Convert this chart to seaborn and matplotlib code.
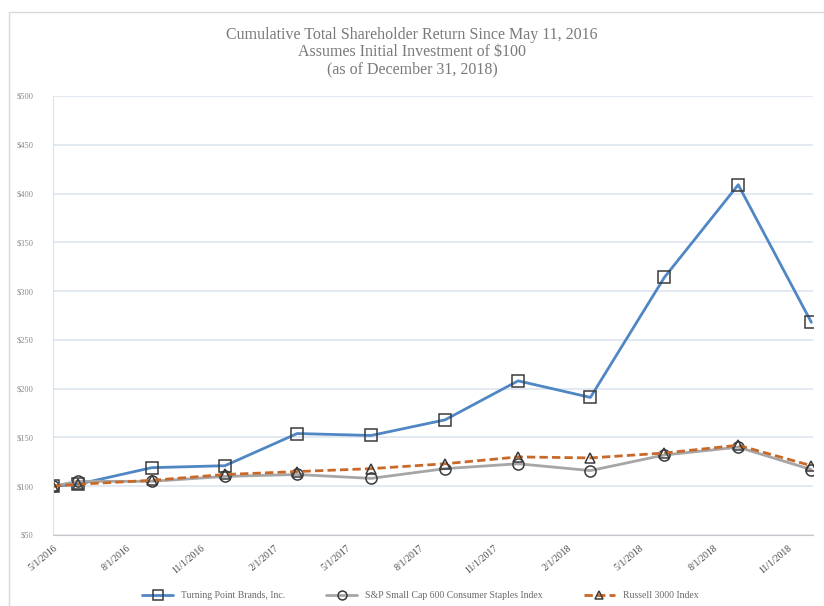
import numpy as np
import pandas as pd
import matplotlib
matplotlib.use("Agg")
import matplotlib.pyplot as plt
import matplotlib.dates as mdates
from matplotlib.ticker import FuncFormatter
from matplotlib.patches import Rectangle
import seaborn as sns

# Quarter-end measurement dates
dates = ["2016-05-11", "2016-06-30", "2016-09-30", "2016-12-31",
         "2017-03-31", "2017-06-30", "2017-09-30", "2017-12-31",
         "2018-03-31", "2018-06-30", "2018-09-30", "2018-12-31"]

tpb = [100, 102, 119, 121, 154, 152, 168, 208, 191, 314, 409, 268]
sp600 = [100, 105, 105, 110, 112, 108, 118, 123, 116, 132, 140, 117]
russell = [100, 102, 106, 112, 115, 118, 123, 130, 129, 134, 142, 121]

series_names = ["Turning Point Brands, Inc.",
                "S&P Small Cap 600 Consumer Staples Index",
                "Russell 3000 Index"]

# Excel-style date axis with month base unit: each point sits at its month start
month_pos = pd.to_datetime(dates).to_period("M").to_timestamp()
df = pd.DataFrame({"date": month_pos, "tpb": tpb, "sp600": sp600, "russell": russell})

sns.set_style("white")
plt.rcParams["font.family"] = ["Liberation Serif", "DejaVu Serif"]

fig = plt.figure(figsize=(8.24, 6.06), dpi=100)
ax = fig.add_axes([0.0643, 0.1172, 0.9223, 0.7244])

edge = "#3a3a3a"
sns.lineplot(data=df, x="date", y="tpb", ax=ax, color="#4f87c4", linewidth=2,
             marker="s", markersize=9, markerfacecolor="none",
             markeredgecolor=edge, markeredgewidth=1.1, label=series_names[0])
sns.lineplot(data=df, x="date", y="sp600", ax=ax, color="#a6a6a6", linewidth=2,
             marker="o", markersize=8, markerfacecolor="none",
             markeredgecolor=edge, markeredgewidth=1.1, label=series_names[1])
sns.lineplot(data=df, x="date", y="russell", ax=ax, color="#c8692a", linewidth=2,
             linestyle=(0, (3, 1.5)), marker="^", markersize=7,
             markerfacecolor="none", markeredgecolor=edge,
             markeredgewidth=1.1, label=series_names[2])

ax.set_ylim(50, 500)
ax.set_yticks(np.arange(50, 501, 50))
ax.yaxis.set_major_formatter(FuncFormatter(lambda v, p: f"${v:.0f}"))
ax.set_xlim(pd.Timestamp("2016-05-01"), pd.Timestamp("2018-12-03"))
ax.xaxis.set_major_locator(mdates.MonthLocator(bymonth=[2, 5, 8, 11]))
ax.xaxis.set_minor_locator(mdates.MonthLocator())
ax.xaxis.set_major_formatter(FuncFormatter(
    lambda v, p: f"{mdates.num2date(v).month}/1/{mdates.num2date(v).year}"))

ax.grid(axis="y", color="#dde5f0", linewidth=1.2)
ax.set_axisbelow(True)
for s in ["top", "right"]:
    ax.spines[s].set_visible(False)
ax.spines["left"].set_color("#e2e2e2")
ax.spines["bottom"].set_color("#c8c8c8")
ax.tick_params(axis="y", labelsize=6, colors="#8a8a8a", length=0, pad=14)
ax.tick_params(axis="x", which="both", direction="inout", length=5,
               color="#c8c8c8", labelsize=7, labelcolor="#4a4a4a")
plt.setp(ax.get_xticklabels(), rotation=40, ha="right", rotation_mode="anchor")
ax.set_xlabel("")
ax.set_ylabel("")

fig.text(0.5, 0.955, "Cumulative Total Shareholder Return Since May 11, 2016\n"
         "Assumes Initial Investment of $100\n(as of December 31, 2018)",
         ha="center", va="top", fontsize=11.5, color="#7a7a7a", linespacing=1.1)

handles, labels = ax.get_legend_handles_labels()
ax.get_legend().remove()
leg = fig.legend(handles, labels, loc="center", bbox_to_anchor=(0.51, 0.017),
                 ncol=3, frameon=False, fontsize=7, handlelength=3.2,
                 columnspacing=4.2, markerscale=0.8)
for t in leg.get_texts():
    t.set_color("#6a6a6a")

fig.patches.append(Rectangle((9 / 824, -0.1), 1.2, 1 - 12 / 606 + 0.1,
                             transform=fig.transFigure, fill=False,
                             edgecolor="#d9d9d9", linewidth=1))

fig.savefig("out.png", dpi=100)
